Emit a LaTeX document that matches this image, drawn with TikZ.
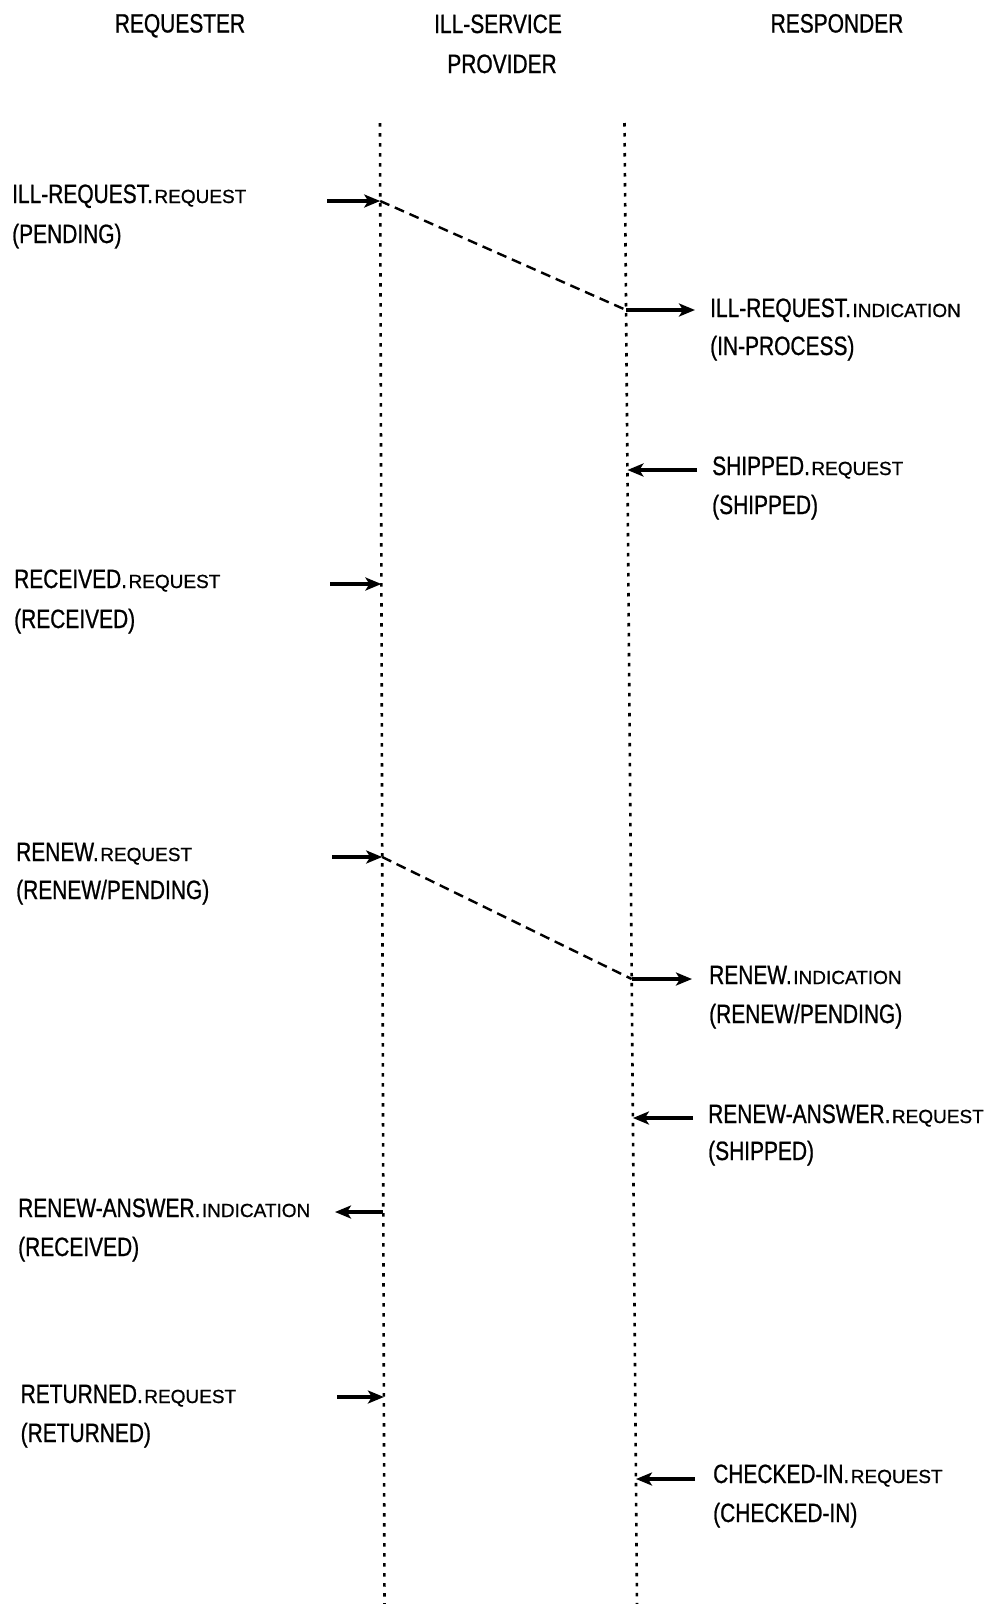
\documentclass[tikz,border=0pt]{standalone}
\usepackage{fontspec}
\setmainfont{Liberation Sans}[FakeStretch=0.79,FakeBold=0.8]
\newfontfamily\scfont{Liberation Sans}[FakeBold=0.8]
\usetikzlibrary{arrows.meta}
% small capitals used for the primitive suffixes
\newcommand\smc[1]{\hspace{1.5pt}{\scfont\fontsize{19}{19}\selectfont #1}}
\begin{document}
\begin{tikzpicture}[x=1pt,y=-1pt,
  lbl/.style={anchor=base west,inner sep=0pt,font=\fontsize{26.5}{40}\selectfont},
  head/.style={anchor=base,inner sep=0pt,font=\fontsize{26.5}{40}\selectfont},
  lifeline/.style={line width=2.6pt,dash pattern=on 3.5pt off 6.5pt},
  msg/.style={line width=3.2pt,-{Stealth[length=16pt,width=13pt,inset=4pt]}},
  transit/.style={line width=2.4pt,dash pattern=on 10pt off 6pt}]
\useasboundingbox (0,0) rectangle (995,1604);

% column headings
\node[head] (hreq) at (180,32.5) {REQUESTER};
\node[head] (hprov1) at (498,33) {ILL-SERVICE};
\node[head] (hprov2) at (502,73) {PROVIDER};
\node[head] (hresp) at (837,32.5) {RESPONDER};

% lifelines
\coordinate (Ltop) at (380,123);
\coordinate (Lbot) at (384.5,1604);
\coordinate (Rtop) at (624.5,123);
\coordinate (Rbot) at (637,1604);
\draw[lifeline] (Ltop) -- (Lbot);
\draw[lifeline] (Rtop) -- (Rbot);

% requester side labels
\node[lbl] (a1) at (12,203) {ILL-REQUEST.\smc{REQUEST}};
\node[lbl] (a2) at (12,243) {(PENDING)};
\node[lbl] (c1) at (14,588) {RECEIVED.\smc{REQUEST}};
\node[lbl] (c2) at (14,628) {(RECEIVED)};
\node[lbl] (d1) at (16,861) {RENEW.\smc{REQUEST}};
\node[lbl] (d2) at (16,899) {(RENEW/PENDING)};
\node[lbl] (f1) at (18,1217) {RENEW-ANSWER.\smc{INDICATION}};
\node[lbl] (f2) at (18,1256) {(RECEIVED)};
\node[lbl] (g1) at (20.5,1403) {RETURNED.\smc{REQUEST}};
\node[lbl] (g2) at (20.5,1442) {(RETURNED)};

% responder side labels
\node[lbl] (b1) at (710,317) {ILL-REQUEST.\smc{INDICATION}};
\node[lbl] (b2) at (710,355) {(IN-PROCESS)};
\node[lbl] (s1) at (712,475) {SHIPPED.\smc{REQUEST}};
\node[lbl] (s2) at (712,514) {(SHIPPED)};
\node[lbl] (e1) at (709,984) {RENEW.\smc{INDICATION}};
\node[lbl] (e2) at (709,1023) {(RENEW/PENDING)};
\node[lbl] (r1) at (708,1123) {RENEW-ANSWER.\smc{REQUEST}};
\node[lbl] (r2) at (708,1160) {(SHIPPED)};
\node[lbl] (k1) at (713,1483) {CHECKED-IN.\smc{REQUEST}};
\node[lbl] (k2) at (713,1522) {(CHECKED-IN)};

% message end points
\coordinate (m1a) at (327,201);   \coordinate (m1b) at (380.2,201);
\coordinate (m1c) at (626.1,310); \coordinate (m1d) at (695,310);
\coordinate (m2a) at (697,470);   \coordinate (m2b) at (627.4,470);
\coordinate (m3a) at (330,584);   \coordinate (m3b) at (381.4,584);
\coordinate (m4a) at (332,857);   \coordinate (m4b) at (382.2,857);
\coordinate (m4c) at (631.7,979); \coordinate (m4d) at (692,979);
\coordinate (m5a) at (693,1118);  \coordinate (m5b) at (632.9,1118);
\coordinate (m6a) at (383.3,1212);\coordinate (m6b) at (335,1212);
\coordinate (m7a) at (337,1397);  \coordinate (m7b) at (383.9,1397);
\coordinate (m8a) at (695,1479);  \coordinate (m8b) at (636,1479);

% ILL-REQUEST
\draw[msg] (m1a) -- (m1b);
\draw[transit] (m1b) -- (m1c);
\draw[msg] (m1c) -- (m1d);
% SHIPPED
\draw[msg] (m2a) -- (m2b);
% RECEIVED
\draw[msg] (m3a) -- (m3b);
% RENEW
\draw[msg] (m4a) -- (m4b);
\draw[transit] (m4b) -- (m4c);
\draw[msg] (m4c) -- (m4d);
% RENEW-ANSWER
\draw[msg] (m5a) -- (m5b);
\draw[msg] (m6a) -- (m6b);
% RETURNED
\draw[msg] (m7a) -- (m7b);
% CHECKED-IN
\draw[msg] (m8a) -- (m8b);
\end{tikzpicture}
\end{document}
